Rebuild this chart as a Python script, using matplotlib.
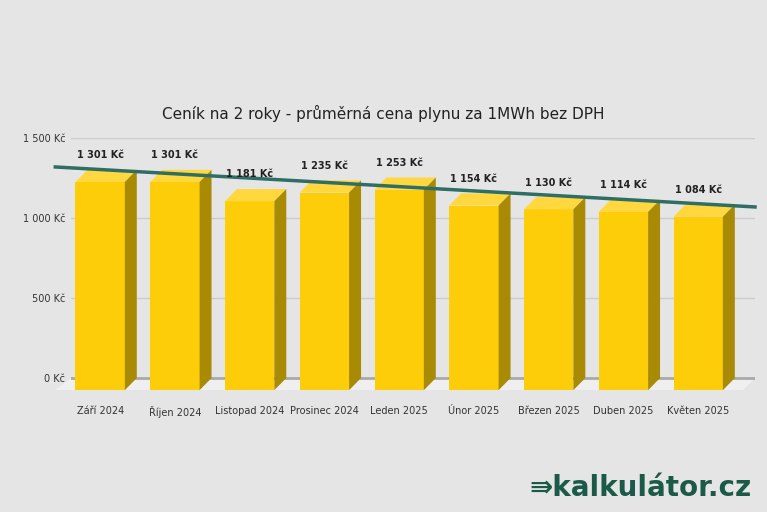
import matplotlib.pyplot as plt
from matplotlib.patches import Polygon

months = ["Září 2024", "Říjen 2024", "Listopad 2024", "Prosinec 2024", "Leden 2025",
          "Únor 2025", "Březen 2025", "Duben 2025", "Květen 2025"]
prices = [1301, 1301, 1181, 1235, 1253, 1154, 1130, 1114, 1084]
trend_x = [-0.6, 8.76]
trend_y = [1319, 1069]
yticks = [0, 500, 1000, 1500]
ytick_labels = ["0 Kč", "500 Kč", "1 000 Kč", "1 500 Kč"]

BG = "#e5e5e5"
FRONT, TOP, SIDE = "#fdcd0a", "#fed83e", "#a98a05"
W, DX, DY = 0.66, 0.16, 76

fig = plt.figure(figsize=(7.67, 5.12), dpi=100, facecolor=BG)
ax = fig.add_axes([71 / 767, 1 - 392.4 / 512, (755 - 71) / 767, (392.4 - 138) / 512])
ax.set_facecolor(BG)
ax.set_xlim(-0.39, 8.76)
ax.set_ylim(-90, 1500)

for y in yticks:
    ax.axhline(y, color="#a9a9a9" if y == 0 else "#cccccc", lw=2 if y == 0 else 1, zorder=1)

# floor
ax.add_patch(Polygon([(-0.6, -75), (8.6, -75), (8.76, 0), (-0.39, 0)], closed=True,
                     facecolor="#efefef", edgecolor="none", zorder=0.5, clip_on=False))

for i, v in enumerate(prices):
    x0, x1 = i - W / 2, i + W / 2
    bot, top = -DY, v - DY
    ax.add_patch(Polygon([(x0, bot), (x1, bot), (x1, top), (x0, top)], facecolor=FRONT, edgecolor="none", zorder=2))
    ax.add_patch(Polygon([(x0, top), (x1, top), (x1 + DX, v), (x0 + DX, v)], facecolor=TOP, edgecolor="none", zorder=2))
    ax.add_patch(Polygon([(x1, bot), (x1 + DX, bot + DY), (x1 + DX, v), (x1, top)], facecolor=SIDE, edgecolor="none", zorder=2))
    ax.text(i, v + 60, f"{v:,} Kč".replace(",", " "), ha="center", va="bottom",
            fontsize=7, fontweight="bold", color="#222222", zorder=4)

ax.plot(trend_x, trend_y, color="#2e6e64", lw=2.5, zorder=3, clip_on=False)

ax.set_yticks(yticks)
ax.set_yticklabels(ytick_labels, fontsize=7, color="#333333")
ax.set_xticks(range(len(months)))
ax.set_xticklabels(months, fontsize=7, color="#333333")
ax.tick_params(length=0, pad=4)
ax.tick_params(axis="x", pad=10)
for s in ax.spines.values():
    s.set_visible(False)

fig.text(0.5, 1 - 113 / 512, "Ceník na 2 roky - průměrná cena plynu za 1MWh bez DPH",
         ha="center", va="center", fontsize=11, color="#222222")
fig.text(0.98, 1 - 488 / 512, "⇛kalkulátor.cz", ha="right", va="center", fontsize=20,
         fontweight="bold", color="#1b5a48")

fig.savefig("out.png", dpi=100, facecolor=BG)
